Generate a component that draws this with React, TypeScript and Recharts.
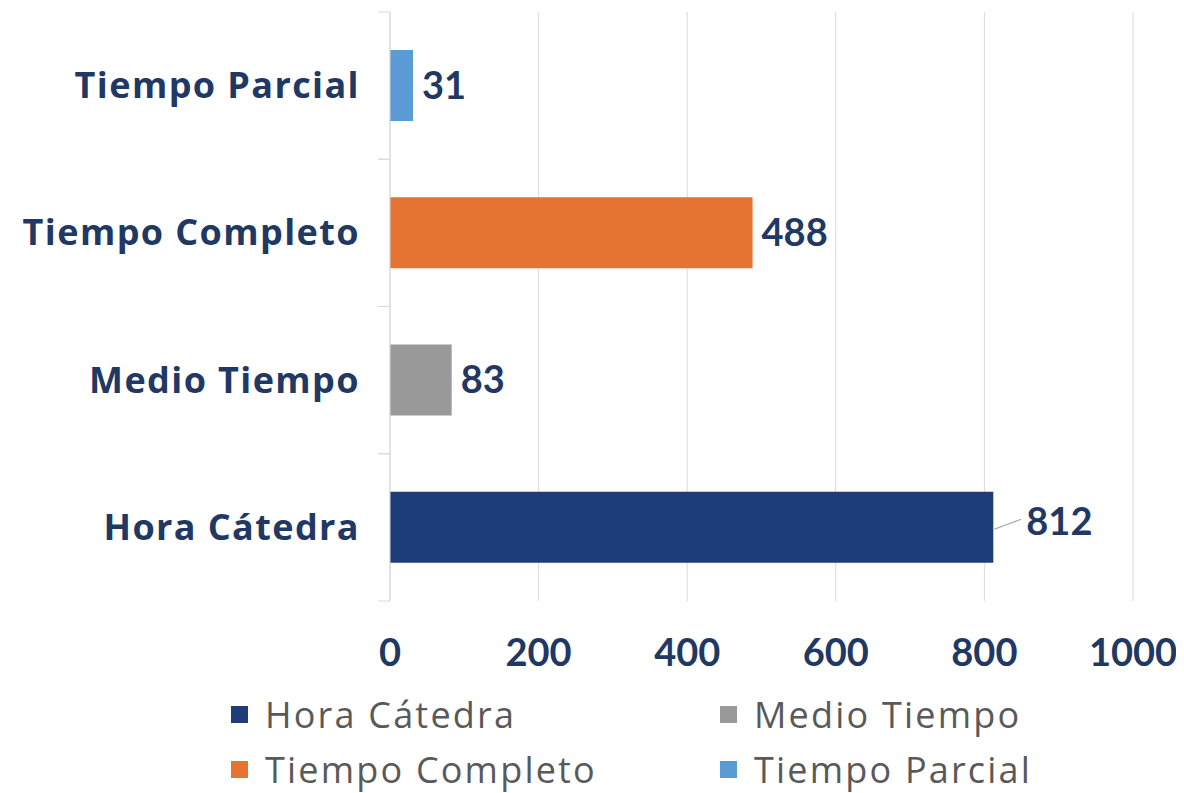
import React from 'react';
import { BarChart, Bar, XAxis, YAxis, CartesianGrid, Legend, LabelList } from 'recharts';

const categories = ['Hora Cátedra', 'Medio Tiempo', 'Tiempo Completo', 'Tiempo Parcial'];
const values = [812, 83, 488, 31];
const colors = ['#1F3C7A', '#999999', '#E57332', '#5B9BD5'];
const xTicks = [0, 200, 400, 600, 800, 1000];

const NAVY = '#1F3864';
const FONT = 'Lato, sans-serif';
const TEXT_FONT = '"Open Sans", sans-serif';

const data = categories.map((name, i) => {
    const row: Record<string, string | number> = { name };
    row[name] = values[i];
    return row;
});

const CategoryTick = (props: any) => {
    const { x, y, payload } = props;
    const half = payload.offset || 0;
    return (
        <g>
            <line x1={x + 20} x2={x + 32} y1={y - half} y2={y - half} stroke="#d9d9d9" />
            <line x1={x + 20} x2={x + 32} y1={y + half} y2={y + half} stroke="#d9d9d9" />
            <text x={x + 2} y={y} dy="0.35em" textAnchor="end" fill={NAVY}
                style={{ fontFamily: TEXT_FONT, fontWeight: 700, fontSize: 36, letterSpacing: 1.4 }}>
                {payload.value}
            </text>
        </g>
    );
};

const makeLabel = (withLeader: boolean) => (props: any) => {
    const { x, y, width, height, value } = props;
    if (value == null || value === '') return null;
    const endX = x + width;
    const cy = y + height / 2;
    if (withLeader) {
        return (
            <g>
                <line x1={endX + 1} y1={cy + 2} x2={endX + 28} y2={cy - 8} stroke="#a6a6a6" strokeWidth={1.2} />
                <text x={endX + 33} y={cy - 6} dy="0.35em" fill={NAVY}
                    style={{ fontFamily: FONT, fontWeight: 700, fontSize: 38 }}>
                    {value}
                </text>
            </g>
        );
    }
    return (
        <text x={endX + 9} y={cy} dy="0.35em" fill={NAVY}
            style={{ fontFamily: FONT, fontWeight: 700, fontSize: 38 }}>
            {value}
        </text>
    );
};

const LegendBox = () => (
    <div style={{
        display: 'grid', gridTemplateColumns: '489px 420px', paddingLeft: 223,
        position: 'relative', top: 4,
        fontFamily: TEXT_FONT, fontSize: 36, color: '#595959', lineHeight: '55px', letterSpacing: 2.2,
    }}>
        {categories.map((c, i) => (
            <div key={c} style={{ display: 'flex', alignItems: 'center', whiteSpace: 'nowrap' }}>
                <span style={{ width: 17, height: 17, background: colors[i], display: 'inline-block', marginRight: 17 }} />
                {c}
            </div>
        ))}
    </div>
);

export default function App() {
    return (
        <BarChart
            width={1168}
            height={785}
            data={data}
            layout="vertical"
            margin={{ top: 4, right: 43, left: 0, bottom: 0 }}
            barCategoryGap="26%"
        >
            <CartesianGrid horizontal={false} stroke="#d9d9d9" />
            <XAxis
                type="number"
                domain={[0, 1000]}
                ticks={xTicks}
                axisLine={false}
                tickLine={false}
                tickSize={0}
                tickMargin={38}
                height={82}
                tick={{ fill: NAVY, fontSize: 38, fontWeight: 700, fontFamily: FONT }}
            />
            <YAxis
                type="category"
                dataKey="name"
                reversed
                width={382}
                tickLine={false}
                tickSize={0}
                tickMargin={32}
                axisLine={{ stroke: '#d9d9d9' }}
                tick={<CategoryTick />}
            />
            <Legend verticalAlign="bottom" content={<LegendBox />} />
            {categories.map((c, i) => (
                <Bar key={c} dataKey={c} stackId="s" fill={colors[i]} barSize={71} isAnimationActive={false}>
                    <LabelList dataKey={c} content={makeLabel(i === 0)} />
                </Bar>
            ))}
        </BarChart>
    );
}
